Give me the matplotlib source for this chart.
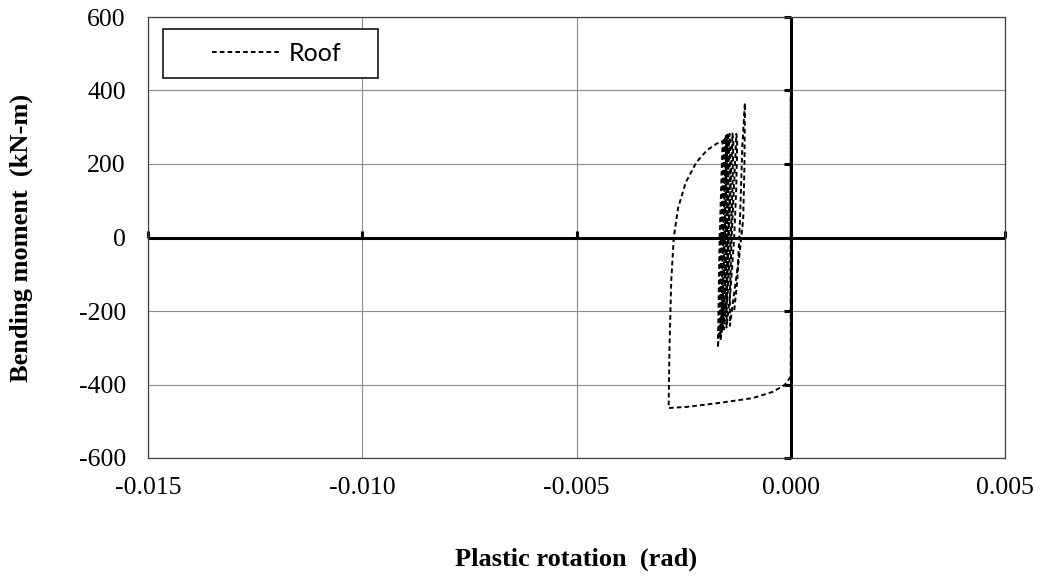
import matplotlib
matplotlib.use("Agg")
import matplotlib.pyplot as plt
from matplotlib.patches import Rectangle

# Roof hinge: plastic rotation (rad) vs bending moment (kN-m)
elastic_rot = [0.0, 0.0, 0.0]
elastic_mom = [0, 382, -370]

yield_rot = [-0.00002, -0.00014, -0.00042, -0.00089, -0.00166, -0.00243, -0.00285]
yield_mom = [-382, -401, -420, -437, -450, -461, -464]

reload_rot = [-0.00283, -0.00279, -0.00273, -0.00263, -0.00245, -0.00220, -0.00195, -0.00172, -0.00159]
reload_mom = [-300, -120, 0, 80, 150, 205, 238, 256, 262]

# small hysteresis loops near -0.0015 rad
cycle_rot = [-0.00162, -0.00166, -0.00168, -0.00170, -0.00164, -0.00158, -0.00155, -0.00154, -0.00156,
             -0.00159, -0.00163, -0.00165, -0.00166, -0.00160, -0.00155, -0.00152, -0.00151, -0.00153,
             -0.00157, -0.00161, -0.00163, -0.00164, -0.00157, -0.00152, -0.00149, -0.00148, -0.00150,
             -0.00154, -0.00158, -0.00161, -0.00162, -0.00155, -0.00149, -0.00146, -0.00145, -0.00147,
             -0.00151, -0.00155, -0.00158, -0.00159, -0.00151, -0.00146, -0.00142, -0.00141, -0.00143,
             -0.00147, -0.00151, -0.00155, -0.00156, -0.00147, -0.00140, -0.00136, -0.00134, -0.00136,
             -0.00140, -0.00145, -0.00149, -0.00150, -0.00141, -0.00132, -0.00127, -0.00125, -0.00127,
             -0.00132, -0.00138, -0.00142, -0.00142, -0.00132, -0.00120, -0.00111, -0.00108, -0.00107,
             -0.00113, -0.00117, -0.00120, -0.00125, -0.00132]
cycle_mom = [150, 0, -150, -300, -200, -50, 100, 240, 272,
             150, 0, -150, -265, -180, -30, 120, 250, 275,
             150, 0, -150, -280, -200, -50, 120, 250, 278,
             150, 0, -150, -262, -170, -20, 130, 255, 280,
             150, 0, -150, -255, -160, -10, 130, 258, 282,
             150, 0, -150, -250, -150, 0, 140, 260, 283,
             150, 0, -150, -245, -150, 0, 140, 262, 282,
             150, 0, -150, -240, -150, -50, 50, 200, 366,
             250, 100, 0, -120, -200]

rotation = elastic_rot + yield_rot + reload_rot + cycle_rot
moment = elastic_mom + yield_mom + reload_mom + cycle_mom

xticks = [-0.015, -0.010, -0.005, 0.000, 0.005]
yticks = [-600, -400, -200, 0, 200, 400, 600]

fig = plt.figure(figsize=(10.43, 5.76), dpi=100)
ax = fig.add_axes([148 / 1043, 1 - 458 / 576, 857 / 1043, 441 / 576])

ax.set_xlim(-0.015, 0.005)
ax.set_ylim(-600, 600)
ax.set_xticks(xticks)
ax.set_yticks(yticks)
ax.set_xticklabels([f"{v:.3f}" for v in xticks], family="Liberation Serif", fontsize=18.5)
ax.set_yticklabels([str(v) for v in yticks], family="Liberation Serif", fontsize=18.5)
ax.tick_params(axis="x", length=0, pad=14)
ax.tick_params(axis="y", length=0, pad=16)

ax.grid(True, color="#8c8c8c", linewidth=0.8)
ax.set_axisbelow(True)
for s in ax.spines.values():
    s.set_color("#404040")
    s.set_linewidth(0.9)

# axes crossing at zero, Excel style
ax.axhline(0, color="black", linewidth=2.2, zorder=2)
ax.axvline(0, color="black", linewidth=2.2, zorder=2)
ax.plot(xticks, [0] * len(xticks), ls="none", marker=2, ms=5, mew=2.2, color="black", zorder=2, clip_on=False)
ax.plot([0] * len(yticks), yticks, ls="none", marker=0, ms=5, mew=2.2, color="black", zorder=2, clip_on=False)

ax.plot(rotation, moment, color="black", linewidth=1.4, linestyle=(0, (2.4, 1.6)), label="Roof", zorder=3)

ax.set_xlabel("Plastic rotation  (rad)", family="Liberation Serif", fontweight="bold", fontsize=19)
ax.set_ylabel("Bending moment  (kN-m)", family="Liberation Serif", fontweight="bold", fontsize=19)
ax.xaxis.set_label_coords(0.5, -0.204)
ax.yaxis.set_label_coords(-0.134, 0.5)

# legend box
ax.add_patch(Rectangle((0.0175, 0.8617), 0.2509, 0.1111, transform=ax.transAxes,
                       fill=True, facecolor="white", edgecolor="black", linewidth=1.1, zorder=5))
leg = ax.legend(loc="center left", bbox_to_anchor=(0.0747, 0.918), frameon=False,
                borderpad=0, borderaxespad=0, handlelength=2.7, handletextpad=0.38,
                prop={"family": "Lato", "size": 18})
leg.set_zorder(6)

plt.savefig("out.png", dpi=100)
